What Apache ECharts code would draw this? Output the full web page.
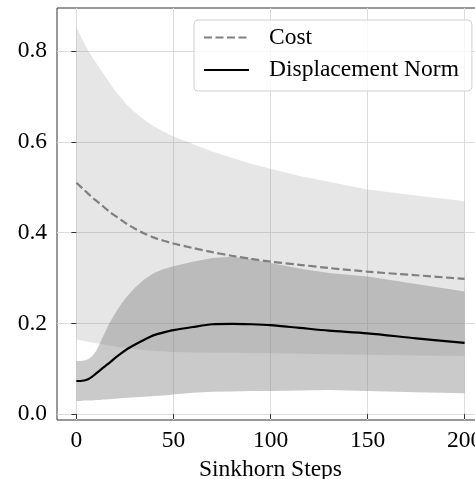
<!DOCTYPE html>
<html>
<head>
<meta charset="utf-8">
<script src="https://cdn.jsdelivr.net/npm/echarts@6/dist/echarts.min.js"></script>
<style>
  html, body { margin: 0; padding: 0; background: #fff; }
  #chart { width: 475px; height: 479px; }
</style>
</head>
<body>
<div id="chart"></div>
<script>
// Sinkhorn steps at which values were read
const steps = [0, 2, 4, 6, 8, 10, 12, 14, 17, 20, 23, 26, 30, 35, 40, 45, 50, 60, 70, 80, 90, 100, 115, 130, 150, 175, 200];

// Cost: mean and band
const costMean  = [0.510, 0.502, 0.494, 0.486, 0.478, 0.471, 0.464, 0.457, 0.446, 0.437, 0.428, 0.419, 0.409, 0.398, 0.389, 0.382, 0.376, 0.366, 0.357, 0.349, 0.342, 0.336, 0.329, 0.322, 0.314, 0.306, 0.298];
const costUpper = [0.854, 0.835, 0.818, 0.802, 0.788, 0.775, 0.762, 0.750, 0.730, 0.712, 0.697, 0.682, 0.666, 0.648, 0.634, 0.622, 0.612, 0.595, 0.579, 0.565, 0.552, 0.541, 0.525, 0.512, 0.495, 0.482, 0.469];
const costLower = [0.165, 0.163, 0.161, 0.159, 0.158, 0.156, 0.155, 0.153, 0.151, 0.149, 0.147, 0.146, 0.143, 0.141, 0.139, 0.138, 0.137, 0.136, 0.135, 0.135, 0.134, 0.134, 0.133, 0.132, 0.131, 0.129, 0.128];

// Displacement norm: mean and band
const dispMean  = [0.073, 0.073, 0.074, 0.077, 0.082, 0.089, 0.096, 0.103, 0.113, 0.124, 0.134, 0.143, 0.153, 0.164, 0.174, 0.180, 0.185, 0.192, 0.198, 0.199, 0.198, 0.196, 0.190, 0.184, 0.178, 0.167, 0.157];
const dispUpper = [0.117, 0.117, 0.118, 0.121, 0.127, 0.138, 0.155, 0.174, 0.200, 0.222, 0.242, 0.259, 0.278, 0.297, 0.311, 0.320, 0.326, 0.336, 0.344, 0.347, 0.342, 0.333, 0.321, 0.311, 0.303, 0.287, 0.270];
const dispLower = [0.029, 0.029, 0.030, 0.030, 0.030, 0.031, 0.031, 0.032, 0.033, 0.034, 0.035, 0.036, 0.037, 0.038, 0.040, 0.041, 0.043, 0.047, 0.049, 0.050, 0.051, 0.051, 0.052, 0.053, 0.051, 0.048, 0.046];

// Tick values
const xTicks = [0, 50, 100, 150, 200];
const yTicks = [0, 0.2, 0.4, 0.6, 0.8];

const pairs = (ys) => steps.map((x, i) => [x, ys[i]]);
const bandData = (lo, hi) => steps.map((x, i) => [x, lo[i], hi[i]]);

const FONT = 'Liberation Serif';
const FS = 23.5;
const SMOOTH = 0.3;

function bandRenderer(lo, hi, fill) {
  return function (params, api) {
    if (params.dataIndex !== 0) return null;
    const pts = [];
    for (let i = 0; i < steps.length; i++) pts.push(api.coord([steps[i], hi[i]]));
    for (let i = steps.length - 1; i >= 0; i--) pts.push(api.coord([steps[i], lo[i]]));
    return {
      type: 'polygon',
      shape: { points: pts },
      style: { fill: fill, stroke: null }
    };
  };
}

const chart = echarts.init(document.getElementById('chart'), null, { renderer: 'canvas' });

chart.setOption({
  animation: false,
  backgroundColor: '#ffffff',
  textStyle: { fontFamily: FONT, color: '#000' },
  grid: {
    left: 57, top: 8, width: 427, height: 412,
    outerBoundsMode: 'none',
    containLabel: false,
    show: true, borderColor: '#333333', borderWidth: 1, backgroundColor: 'transparent'
  },
  legend: {
    data: ['Cost', 'Displacement Norm'],
    orient: 'vertical',
    left: 194, top: 20,
    padding: [5.5, 13, 9, 9],
    itemGap: 8.5,
    itemWidth: 45,
    itemHeight: 24,
    backgroundColor: 'rgba(255,255,255,0.8)',
    borderColor: '#d0d0d0',
    borderWidth: 1,
    borderRadius: 4,
    itemStyle: { opacity: 0, color: 'transparent', borderWidth: 0 },
    textStyle: { fontFamily: FONT, fontSize: FS, color: '#000', padding: [0, 0, 0, 15] }
  },
  xAxis: {
    type: 'value',
    min: -10, max: 210,
    name: 'Sinkhorn Steps',
    nameLocation: 'middle',
    nameGap: 31,
    nameTextStyle: { fontFamily: FONT, fontSize: FS, color: '#000' },
    axisLine: { show: false },
    axisTick: { show: true, length: 5, inside: false, customValues: xTicks, lineStyle: { color: '#333', width: 1 } },
    axisLabel: { customValues: xTicks, fontFamily: FONT, fontSize: FS, color: '#000', margin: 9 },
    splitLine: { show: true, lineStyle: { color: '#dcdcdc', width: 1 } }
  },
  yAxis: {
    type: 'value',
    min: -0.013, max: 0.895,
    axisLine: { show: false },
    axisTick: { show: true, length: 5, inside: false, customValues: yTicks, lineStyle: { color: '#333', width: 1 } },
    axisLabel: { customValues: yTicks, fontFamily: FONT, fontSize: FS, color: '#000', margin: 10,
                 formatter: (v) => v.toFixed(1) },
    splitLine: { show: true, lineStyle: { color: '#dcdcdc', width: 1 } }
  },
  series: [
    { name: 'costBand', type: 'custom', data: bandData(costLower, costUpper),
      encode: { x: 0, y: [1, 2] }, silent: true, z: 1,
      renderItem: bandRenderer(costLower, costUpper, 'rgba(128,128,128,0.2)') },
    { name: 'dispBand', type: 'custom', data: bandData(dispLower, dispUpper),
      encode: { x: 0, y: [1, 2] }, silent: true, z: 1,
      renderItem: bandRenderer(dispLower, dispUpper, 'rgba(128,128,128,0.42)') },
    { name: 'Cost', type: 'line', data: pairs(costMean), symbol: 'none', smooth: SMOOTH, z: 3,
      itemStyle: { color: '#808080' },
      lineStyle: { color: '#808080', width: 2.2, type: [8, 3.5] } },
    { name: 'Displacement Norm', type: 'line', data: pairs(dispMean), symbol: 'none', smooth: SMOOTH, z: 3,
      itemStyle: { color: '#000000' },
      lineStyle: { color: '#000000', width: 2.2 } }
  ]
});
</script>
</body>
</html>
